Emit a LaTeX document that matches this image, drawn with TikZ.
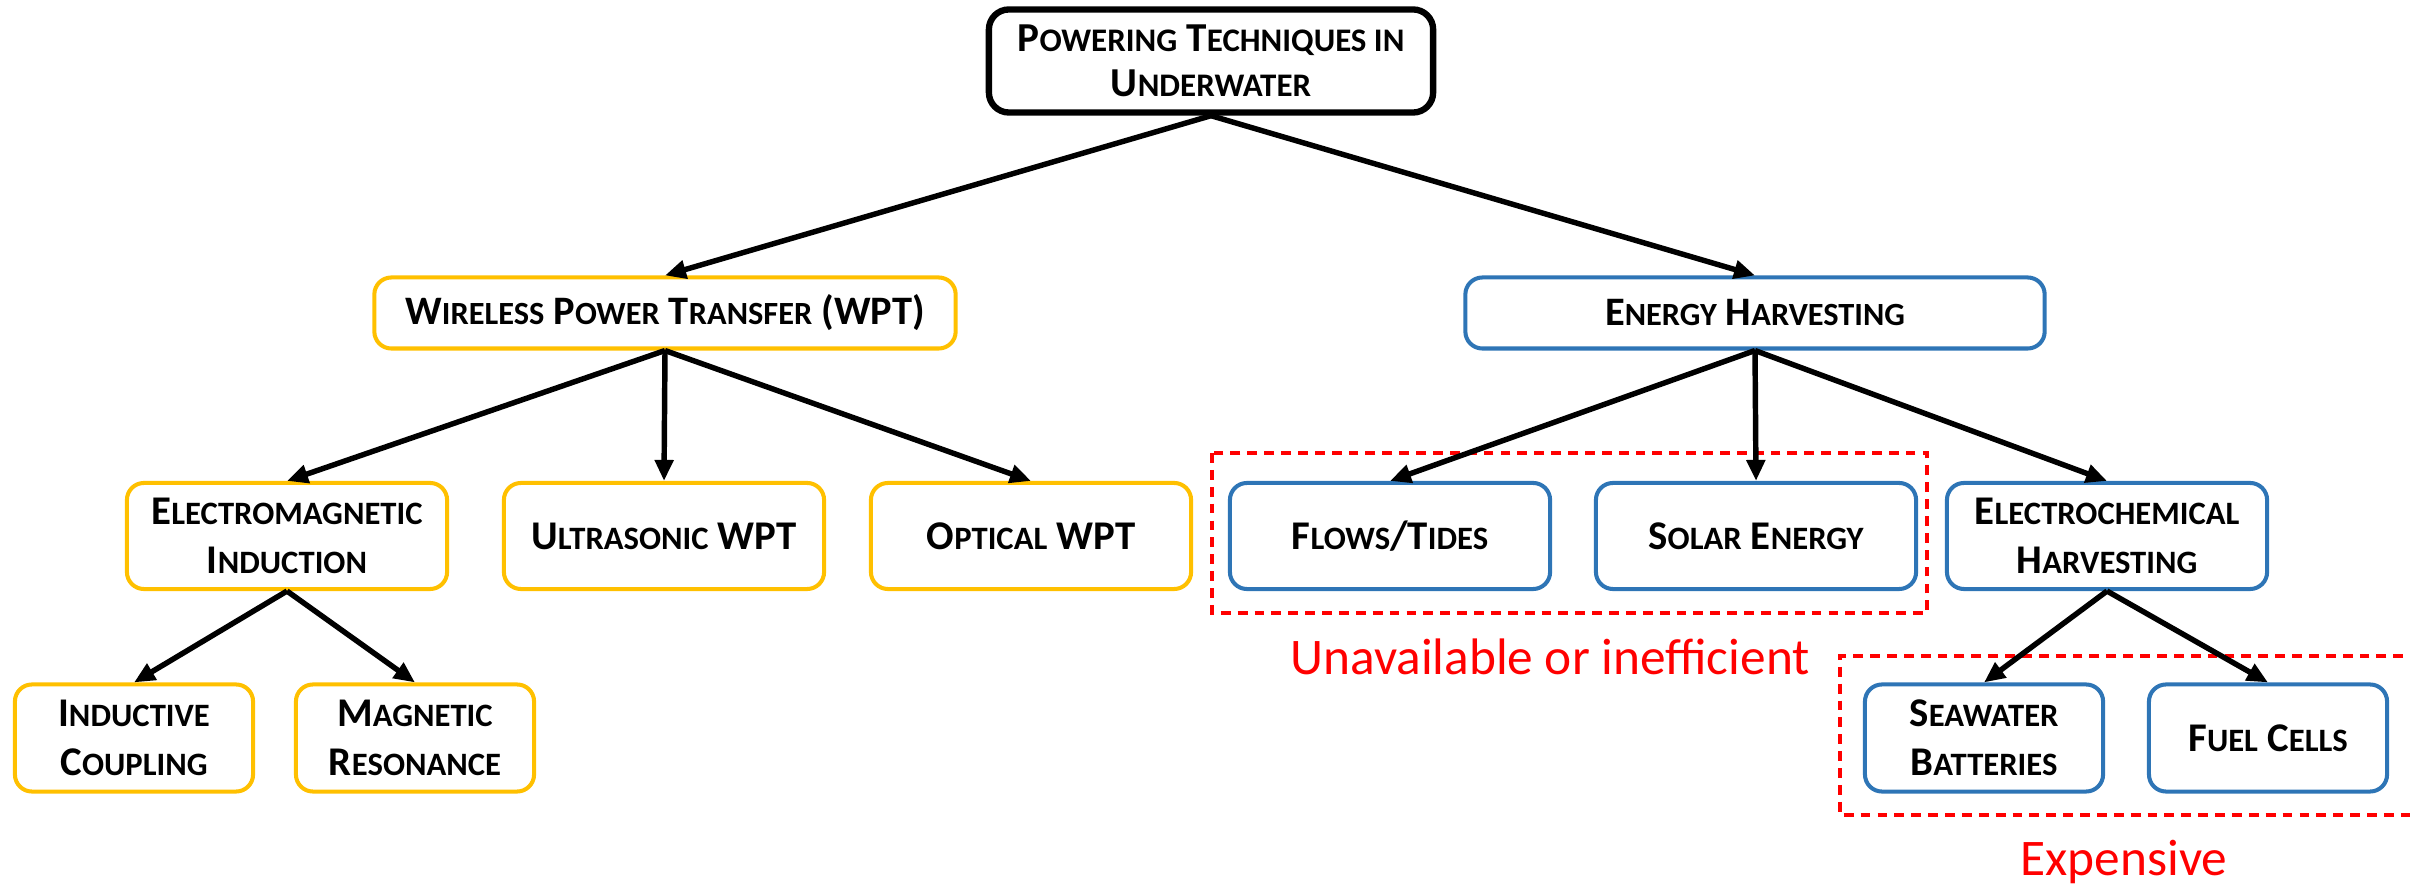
\documentclass[tikz,border=0pt]{standalone}
\usepackage{fontspec}
\setmainfont{Carlito}
\newfontfamily\scfont[Scale=0.8]{Carlito}
\usetikzlibrary{arrows.meta}
% small-capital letters: set uppercase at reduced size
\newcommand\smc[1]{{\scfont\bfseries #1}}
\definecolor{wptgold}{HTML}{FFC000}
\definecolor{ehblue}{HTML}{2E75B6}
\definecolor{notered}{HTML}{FF0000}
\tikzset{
  box/.style={draw, rounded corners=0.17cm, fill=white, align=center, inner sep=0pt,
    font=\fontsize{11.5pt}{13pt}\selectfont\bfseries, line width=1.15pt},
  rootbox/.style={box, draw=black, line width=1.8pt, rounded corners=0.2cm,
    font=\fontsize{11.7pt}{12.8pt}\selectfont\bfseries},
  wptbox/.style={box, draw=wptgold},
  ehbox/.style={box, draw=ehblue},
  lvltwo/.style={minimum width=3.2cm, minimum height=1.06cm,
    font=\fontsize{11.6pt}{14pt}\selectfont\bfseries},
  lvlthree/.style={minimum width=2.38cm, minimum height=1.07cm,
    font=\fontsize{11.6pt}{14pt}\selectfont\bfseries},
  link/.style={-{Triangle[length=0.21cm,width=0.18cm]}, line width=1.55pt, black},
  groupframe/.style={draw=notered, dash pattern=on 2.8pt off 2pt, line width=0.9pt},
  note/.style={text=notered, font=\fontsize{14.6pt}{16pt}\selectfont, anchor=base, inner sep=0pt}
}
\begin{document}
\begin{tikzpicture}[x=0.01cm, y=-0.01cm]
\useasboundingbox (0,0) rectangle (2410,886);

% root
\node[rootbox, minimum width=4.44cm, minimum height=1.03cm] (root) at (1211,61)
  {P\smc{OWERING} T\smc{ECHNIQUES IN}\\U\smc{NDERWATER}};

% first level
\node[wptbox, minimum width=5.81cm, minimum height=0.71cm] (wpt) at (665,313)
  {W\smc{IRELESS} P\smc{OWER} T\smc{RANSFER} (WPT)};
\node[ehbox, minimum width=5.79cm, minimum height=0.71cm] (eh) at (1755,313)
  {E\smc{NERGY} H\smc{ARVESTING}};

% second level
\node[wptbox, lvltwo] (emi) at (287,536) {E\smc{LECTROMAGNETIC}\\I\smc{NDUCTION}};
\node[wptbox, lvltwo] (us)  at (664,536) {U\smc{LTRASONIC} WPT};
\node[wptbox, lvltwo] (opt) at (1031,536) {O\smc{PTICAL} WPT};
\node[ehbox, lvltwo] (ft)  at (1390,536) {F\smc{LOWS}/T\smc{IDES}};
\node[ehbox, lvltwo] (se)  at (1756,536) {S\smc{OLAR} E\smc{NERGY}};
\node[ehbox, lvltwo] (ec)  at (2107,536) {E\smc{LECTROCHEMICAL}\\H\smc{ARVESTING}};

% third level
\node[wptbox, lvlthree] (ic) at (134,738) {I\smc{NDUCTIVE}\\C\smc{OUPLING}};
\node[wptbox, lvlthree] (mr) at (415,738) {M\smc{AGNETIC}\\R\smc{ESONANCE}};
\node[ehbox, lvlthree] (sw) at (1984,738) {S\smc{EAWATER}\\B\smc{ATTERIES}};
\node[ehbox, lvlthree] (fc) at (2268,738) {F\smc{UEL} C\smc{ELLS}};

% groupings
\draw[groupframe] (1212,453) rectangle (1927,613);
\draw[groupframe] (2420,656) -- (1840,656) -- (1840,815) -- (2420,815);
\node[note] (n1) at (1550,675) {Unavailable or inefficient};
\node[note] (n2) at (2124,875) {Expensive};

% connectors
\draw[link] (root.south) -- (wpt.north);
\draw[link] (root.south) -- (eh.north);
\draw[link] (wpt.south) -- (emi.north);
\draw[link] (wpt.south) -- (us.north);
\draw[link] (wpt.south) -- (opt.north);
\draw[link] (eh.south) -- (ft.north);
\draw[link] (eh.south) -- (se.north);
\draw[link] (eh.south) -- (ec.north);
\draw[link] (emi.south) -- (ic.north);
\draw[link] (emi.south) -- (mr.north);
\draw[link] (ec.south) -- (sw.north);
\draw[link] (ec.south) -- (fc.north);
\end{tikzpicture}
\end{document}
